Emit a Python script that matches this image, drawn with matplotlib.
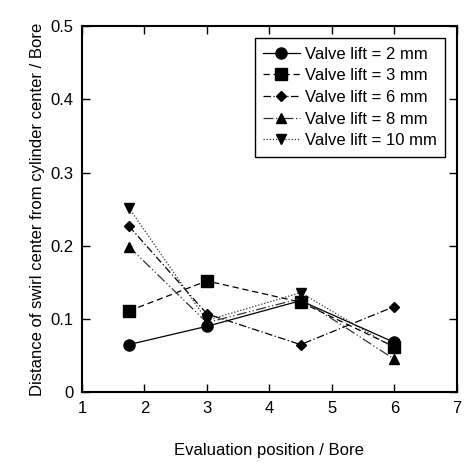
import matplotlib
matplotlib.use("Agg")
import matplotlib.pyplot as plt

plt.rcParams.update({
    'font.family': 'Liberation Sans',
    'font.size': 12,
    'xtick.direction': 'in',
    'ytick.direction': 'in',
    'xtick.top': True,
    'ytick.right': True,
})

positions = [1.75, 3, 4.5, 6]
lift_2 = [0.065, 0.090, 0.125, 0.068]
lift_3 = [0.111, 0.152, 0.123, 0.062]
lift_6 = [0.227, 0.107, 0.065, 0.117]
lift_8 = [0.199, 0.095, 0.128, 0.045]
lift_10 = [0.252, 0.098, 0.136, 0.060]

series = [
    ("Valve lift = 2 mm", lift_2, 'o', '-', 'black', 8),
    ("Valve lift = 3 mm", lift_3, 's', (0, (5, 3)), 'black', 8),
    ("Valve lift = 6 mm", lift_6, 'D', (0, (6, 2, 1, 2)), 'black', 5.5),
    ("Valve lift = 8 mm", lift_8, '^', (0, (8, 2, 1, 2, 1, 2)), '#333333', 7),
    ("Valve lift = 10 mm", lift_10, 'v', (0, (1, 1.5)), '#333333', 7),
]

fig = plt.figure(figsize=(4.71, 4.68), dpi=100)
ax = fig.add_axes([0.174, 0.162, 0.796, 0.782])

for label, vals, mk, ls, col, ms in series:
    ax.plot(positions, vals, marker=mk, linestyle=ls, color=col,
            markerfacecolor='black', markeredgecolor='black',
            markersize=ms, linewidth=0.9, label=label)

ax.set_xlim(1, 7)
ax.set_ylim(0, 0.5)
ax.set_xticks(range(1, 8))
ax.set_yticks([0, 0.1, 0.2, 0.3, 0.4, 0.5])
ax.set_yticklabels(['0', '0.1', '0.2', '0.3', '0.4', '0.5'])
for s in ax.spines.values():
    s.set_linewidth(1.5)
ax.tick_params(length=6, width=1, pad=6)

ax.set_xlabel("Evaluation position / Bore", labelpad=20)
ax.set_ylabel("Distance of swirl center from cylinder center / Bore", labelpad=4)

leg = ax.legend(loc='upper right', bbox_to_anchor=(0.99, 0.99), fancybox=False,
                edgecolor='black', framealpha=1, handlelength=2.2,
                handletextpad=0.3, borderpad=0.5, labelspacing=0.4, fontsize=12)
leg.get_frame().set_linewidth(1.0)

fig.savefig("out.png", dpi=100)
